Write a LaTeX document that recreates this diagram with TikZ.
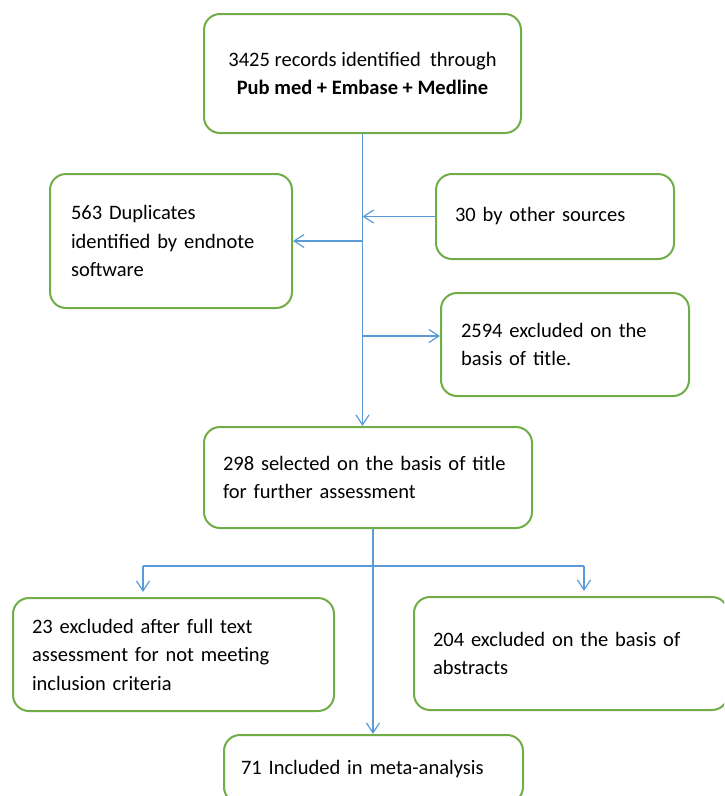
\documentclass[tikz,border=0pt]{standalone}
\usepackage{fontspec}
\setmainfont{Carlito}
\usetikzlibrary{arrows.meta}
\definecolor{boxgreen}{RGB}{112,173,71}
\definecolor{lineblue}{RGB}{91,155,213}
\tikzset{
  box/.style={draw=boxgreen, line width=2pt, rounded corners=16pt, align=left,
    font=\fontsize{20.5}{28.5}\selectfont, inner ysep=0pt, anchor=west},
  conn/.style={draw=lineblue, line width=1.3pt,
    arrows={-Straight Barb[length=10pt,width=13pt,line width=1.2pt]}},
  plain/.style={draw=lineblue, line width=1.3pt}
}
\begin{document}
\begin{tikzpicture}[x=1pt,y=-1pt]
\useasboundingbox (0,0) rectangle (724,796);
\clip (0,0) rectangle (724,796);
% boxes
\node[box, align=center, anchor=center, minimum width=317pt, minimum height=119pt] (top) at (362.5,73.5)
  {3425 records identified\ \ through\\\textbf{Pub med + Embase + Medline}};
\node[box, minimum width=242pt, minimum height=134pt, inner xsep=21pt, text width=200pt] (dup) at (49,241)
  {563 Duplicates\\identified by endnote\\software};
\node[box, minimum width=238pt, minimum height=85pt, inner xsep=19pt, text width=200pt] (oth) at (435,216.5)
  {30 by other sources};
\node[box, minimum width=248pt, minimum height=103pt, inner xsep=20pt, text width=208pt] (exa) at (440,344.5)
  {2594 excluded on the\\basis of title.};
\node[box, minimum width=328pt, minimum height=101pt, inner xsep=19pt, text width=290pt] (sel) at (203,477.5)
  {298 selected on the basis of title\\for further assessment};
\node[box, minimum width=321pt, minimum height=113pt, inner xsep=19pt, text width=283pt] (exb) at (12,654.5)
  {23 excluded after full text\\assessment for not meeting\\inclusion criteria};
\node[box, minimum width=314pt, minimum height=113pt, inner xsep=19pt, text width=276pt] (exc) at (413,653.5)
  {204 excluded on the basis of\\abstracts};
\node[box, minimum width=299pt, minimum height=68pt, inner xsep=17pt, text width=265pt] (inc) at (223,769)
  {71 Included in meta-analysis};
% connectors
\coordinate (ya) at (0,336);
\coordinate (bm) at (373,566);
\coordinate (bl) at (143,566);
\coordinate (br) at (584,566);
\draw[conn] (top.south) -- (top.south |- sel.north);
\draw[conn] (oth.west) -- (oth.west -| top.south);
\draw[conn] (top.south |- dup.east) -- (dup.east);
\draw[conn] (top.south |- ya) -- (exa.west |- ya);
\draw[conn] (bm |- sel.south) -- (bm |- inc.north);
\draw[plain] (bl) -- (br);
\draw[conn, shorten >=5pt] (bl) -- (bl |- exb.north);
\draw[conn, shorten >=5pt] (br) -- (br |- exc.north);
\end{tikzpicture}
\end{document}
